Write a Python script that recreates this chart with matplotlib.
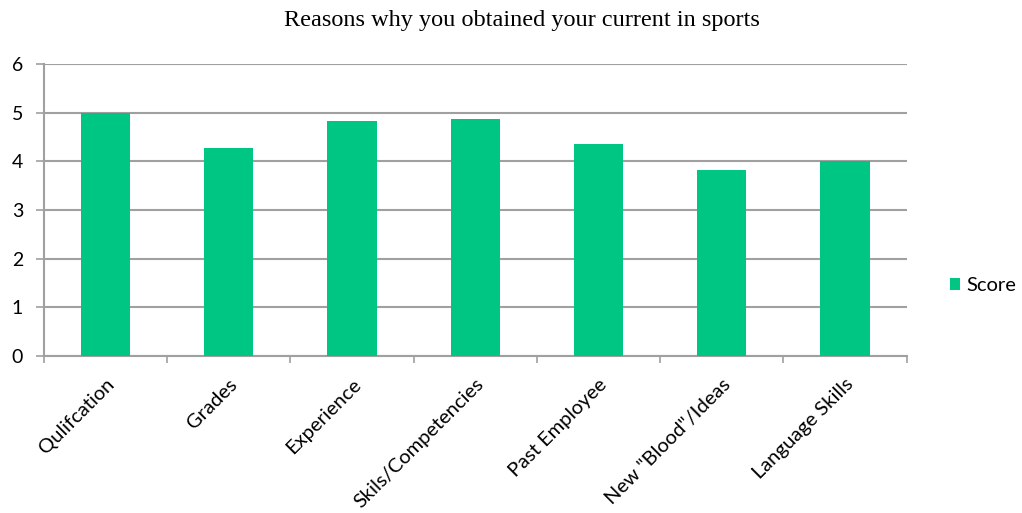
import matplotlib.pyplot as plt
import numpy as np

# Data
categories = ['Qulifcation', 'Grades', 'Experience', 'Skils/Competencies',
              'Past Employee', 'New "Blood"/Ideas', 'Language Skills']
scores = [5.0, 4.28, 4.84, 4.88, 4.35, 3.82, 4.0]

green = '#00c683'
grid_col = '#a0a0a0'

fig = plt.figure(figsize=(10.22, 5.13), dpi=100)
ax = fig.add_axes([0.043, 0.306, 0.844, 0.569])

x = np.arange(len(categories))
ax.bar(x, scores, width=0.4, color=green, label='Score', zorder=3)

ax.set_xlim(-0.5, len(categories) - 0.5)
ax.set_ylim(0, 6)
ax.set_yticks(range(0, 7))
ax.yaxis.grid(True, color=grid_col, linewidth=1.5, zorder=0)

ax.set_xticks(x)
ax.set_xticklabels(categories, rotation=45, ha='right', rotation_mode='anchor',
                   fontsize=14.5, family='Lato')
ax.set_xticks(np.arange(-0.5, len(categories)), minor=True)
ax.tick_params(axis='x', which='major', length=0, pad=14)
ax.tick_params(axis='x', which='minor', length=5, color=grid_col, width=1.2)
ax.tick_params(axis='y', length=6, color=grid_col, width=1.2, labelsize=14, pad=9)
for lbl in ax.get_yticklabels():
    lbl.set_family('Lato')

for s in ['top', 'right']:
    ax.spines[s].set_visible(False)
for s in ['left', 'bottom']:
    ax.spines[s].set_color(grid_col)
    ax.spines[s].set_linewidth(1.5)

fig.text(0.511, 0.96, 'Reasons why you obtained your current in sports',
         ha='center', va='center', fontsize=17.5, family='Liberation Serif')

fig.legend(loc='center left', bbox_to_anchor=(0.922, 0.443), frameon=False,
           prop={'family': 'Lato', 'size': 14.5}, handlelength=0.5, handleheight=0.5,
           handletextpad=0.3, borderpad=0.2, borderaxespad=0.2)

fig.savefig('out.png', dpi=100)
